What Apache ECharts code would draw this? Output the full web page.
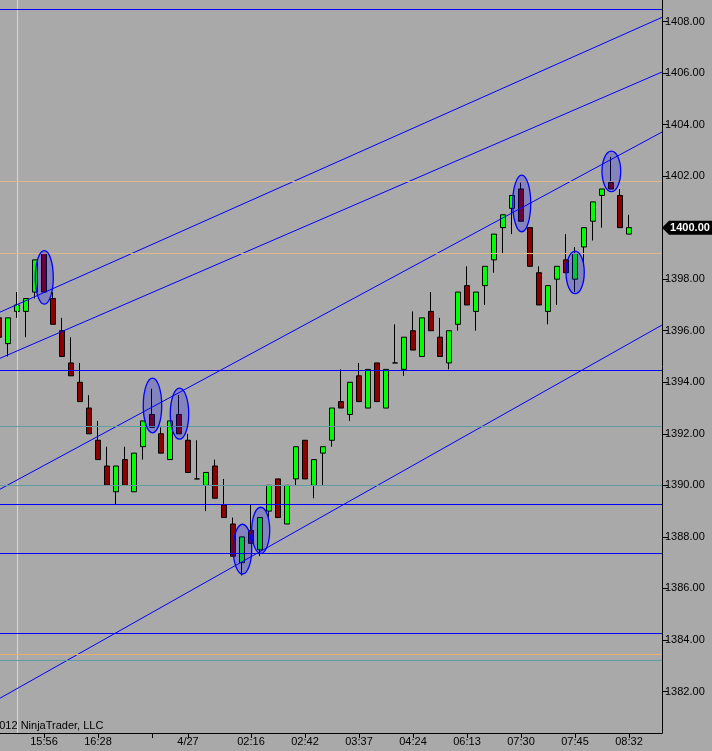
<!DOCTYPE html>
<html><head><meta charset="utf-8">
<script src="https://cdn.jsdelivr.net/npm/echarts@6/dist/echarts.min.js"></script>
<style>html,body{margin:0;padding:0;background:#a9a9a9}#c{width:712px;height:751px}</style>
</head><body><div id="c"></div>
<script>
// ---- bar positions (bar number on the chart) ----
const barIndex = [-1,0,1,2,3,4,5,6,7,8,9,10,11,12,13,14,15,16,17,18,19,20,21,22,23,24,25,26,27,28,29,30,31,32,33,34,35,36,37,38,39,40,41,42,43,44,45,46,47,48,49,50,51,52,53,54,55,56,57,58,59,60,61,62,63,64,65,66,67,68,69];
// ---- OHLC ----
const opens = [1396.5,1395.5,1396.75,1396.75,1397.5,1399.0,1397.25,1396.0,1394.75,1394.0,1393.0,1391.75,1390.75,1389.75,1391.0,1389.75,1391.5,1392.75,1392.0,1391.0,1392.75,1391.75,1390.25,1390.0,1390.75,1389.25,1388.5,1387.0,1388.25,1387.5,1389.0,1390.25,1388.5,1390.25,1391.75,1390.0,1391.25,1391.75,1393.25,1392.75,1394.25,1393.0,1394.75,1393.0,1394.75,1394.5,1396.0,1395.0,1396.75,1395.75,1394.75,1396.25,1397.75,1396.75,1397.75,1398.75,1400.0,1400.75,1401.5,1400.0,1398.25,1396.75,1398.0,1398.75,1398.0,1399.25,1400.25,1401.25,1401.75,1401.25,1399.75];
const closes = [1395.75,1396.5,1397.0,1397.25,1398.75,1397.5,1396.25,1395.0,1394.25,1393.25,1392.0,1391.0,1390.0,1390.75,1390.0,1391.25,1392.5,1392.25,1391.25,1392.5,1392.0,1390.5,1390.25,1390.5,1389.5,1388.75,1387.25,1388.0,1387.75,1388.75,1390.0,1388.75,1390.0,1391.5,1390.25,1391.0,1391.5,1393.0,1393.0,1394.0,1393.25,1394.5,1393.25,1394.5,1394.75,1395.75,1395.25,1396.5,1396.0,1395.0,1396.0,1397.5,1397.0,1397.5,1398.5,1399.75,1400.5,1401.25,1400.25,1398.5,1397.0,1397.75,1398.5,1398.25,1399.0,1400.0,1401.0,1401.5,1401.5,1400.0,1400.0];
const lows = [1395.75,1395.0,1396.5,1395.75,1397.25,1397.5,1396.25,1395.0,1394.25,1393.25,1392.0,1391.0,1390.0,1389.25,1390.0,1389.75,1391.0,1392.25,1391.25,1391.0,1392.0,1390.5,1390.25,1389.0,1389.5,1388.75,1387.25,1386.5,1387.75,1387.25,1388.75,1388.75,1388.5,1390.0,1390.25,1389.5,1390.0,1391.5,1393.0,1392.5,1393.25,1393.0,1393.25,1393.0,1394.75,1394.25,1395.25,1395.0,1396.0,1395.0,1394.5,1396.0,1397.0,1396.0,1397.0,1398.25,1399.0,1399.75,1400.25,1398.5,1397.0,1396.25,1397.0,1398.25,1397.5,1398.5,1399.5,1400.0,1401.5,1400.0,1399.75];
const highs = [1396.5,1396.5,1397.5,1397.25,1398.75,1399.0,1397.5,1396.5,1395.75,1394.75,1393.5,1392.5,1391.5,1390.75,1391.5,1391.25,1392.5,1393.75,1392.25,1392.5,1393.5,1392.0,1391.75,1390.5,1391.0,1390.25,1388.75,1388.0,1389.25,1388.75,1390.0,1390.25,1390.0,1391.5,1391.75,1391.0,1391.5,1393.0,1394.5,1394.0,1394.75,1394.5,1394.75,1394.5,1396.25,1395.75,1396.75,1396.5,1397.5,1396.5,1396.0,1397.5,1398.5,1397.5,1398.5,1399.75,1400.5,1401.25,1401.75,1400.0,1398.5,1397.75,1398.5,1399.75,1399.25,1400.0,1401.0,1401.5,1402.75,1401.5,1400.5];
// ---- time axis labels ----
const tickBars = [4,10,16,20,27,33,39,45,51,57,63,69];
const tickLabels = ['15:56','16:28','','4/27','02:16','02:42','03:37','04:24','06:13','07:30','07:45','08:32'];
// ---- price axis labels ----
const priceTicks = [1382,1384,1386,1388,1390,1392,1394,1396,1398,1400,1402,1404,1406,1408];
const lastPrice = 1400.00;
// ---- ellipses (bar range and price range) ----
const ellipseX0 = [3.03,15.03,18.03,25.03,27.08,56.08,62.0,66.0];
const ellipseX1 = [5.03,17.08,20.08,27.08,29.08,58.08,64.03,68.08];
const ellipseTop = [1399.11,1394.16,1393.77,1388.49,1389.15,1402.04,1399.09,1402.97];
const ellipseBottom = [1397.03,1392.04,1391.79,1386.56,1387.36,1399.84,1397.44,1401.40];
// ---- trend lines ----
const trendX0 = [-0.889,-0.889,-0.889,-0.889,-0.889];
const trendP0 = [1404.48,1396.72,1394.93,1389.85,1381.74];
const trendX1 = [28.22,72.667,72.667,72.667,72.667];
const trendP1 = [1408.92,1408.16,1406.04,1403.71,1396.22];
// ---- horizontal levels ----
const blueLevels = [1408.47,1394.48,1389.28,1387.36,1384.26];
const tanLevels = [1401.81,1399.0];
const tealLevels = [1392.30,1390.0,1383.21];
const orangeLevels = [1383.44];
const sessionBreaks = [1.03];

const FONT = 'Liberation Sans, Arial, sans-serif';
const candleData = barIndex.map((k,i)=>[k, opens[i], closes[i], lows[i], highs[i]]);
const ellipseData = ellipseX0.map((x,i)=>[x, ellipseX1[i], ellipseTop[i], ellipseBottom[i]]);

const lines = [];
sessionBreaks.forEach(v=>lines.push({xAxis:v,lineStyle:{color:'#d6d6d6',width:1,type:'solid'}}));
trendX0.forEach((x,i)=>lines.push([{coord:[x,trendP0[i]],lineStyle:{color:'#0000ff',width:1,type:'solid'}},{coord:[trendX1[i],trendP1[i]]}]));
blueLevels.forEach(v=>lines.push({yAxis:v,lineStyle:{color:'#0000ff',width:1,type:'solid'}}));
tanLevels.forEach(v=>lines.push({yAxis:v,lineStyle:{color:'#dcb98a',width:1,type:'solid'}}));
tealLevels.forEach(v=>lines.push({yAxis:v,lineStyle:{color:'#5f9ea0',width:1,type:'solid'}}));
orangeLevels.forEach(v=>lines.push({yAxis:v,lineStyle:{color:'#e8b070',width:1,type:'solid'}}));

const chart = echarts.init(document.getElementById('c'), null, {renderer:'canvas'});
chart.setOption({
  backgroundColor:'#a9a9a9',
  animation:false,
  textStyle:{fontFamily:FONT},
  graphic:[{type:'text',left:-15,top:720,style:{text:'\u00a92012 NinjaTrader, LLC',fontSize:11,fontFamily:FONT,fill:'#000'}}],
  grid:{left:0,top:0,width:662,height:733},
  xAxis:{type:'value',min:-0.889,max:72.667,
    axisLine:{show:true,onZero:false,lineStyle:{color:'#000',width:1}},
    axisTick:{show:true,length:5,lineStyle:{color:'#000'},customValues:tickBars},
    axisLabel:{customValues:tickBars,margin:3,fontSize:11,color:'#000',fontFamily:FONT,
      formatter:v=>{const i=tickBars.indexOf(Math.round(v));return i>=0?tickLabels[i]:'';}},
    splitLine:{show:false}},
  yAxis:{type:'value',position:'right',min:1380.39,max:1408.834,
    axisLine:{show:true,onZero:false,lineStyle:{color:'#000',width:1}},
    axisTick:{show:true,length:6,lineStyle:{color:'#000'},customValues:priceTicks},
    axisLabel:{customValues:priceTicks,margin:3,fontSize:11,color:'#000',fontFamily:FONT,formatter:v=>v.toFixed(2)},
    splitLine:{show:false}},
  series:[
    {type:'candlestick',data:candleData,encode:{x:0,y:[1,2,3,4]},barWidth:6,z:2,
      itemStyle:{color:'#00ff00',color0:'#8b0000',borderColor:'#000',borderColor0:'#000',borderColorDoji:'#000',borderWidth:1},
      markLine:{silent:true,symbol:['none','none'],label:{show:false},data:lines},
      markPoint:{silent:true,data:[{coord:[72.667,lastPrice],symbol:'path://M0,7L7,0L50,0L50,14L7,14Z',symbolSize:[50,14],symbolKeepAspect:false,symbolOffset:[25,0],
        itemStyle:{color:'#000'},
        label:{show:true,position:'inside',offset:[3,0],formatter:lastPrice.toFixed(2),color:'#fff',fontWeight:'bold',fontSize:11,fontFamily:FONT}}]}},
    {type:'custom',data:ellipseData,encode:{x:[0,1],y:[2,3]},z:5,silent:true,
      renderItem:(params,api)=>{
        const a=api.coord([api.value(0),api.value(2)]);
        const b=api.coord([api.value(1),api.value(3)]);
        return {type:'ellipse',shape:{cx:(a[0]+b[0])/2,cy:(a[1]+b[1])/2,rx:Math.abs(b[0]-a[0])/2,ry:Math.abs(b[1]-a[1])/2},
          style:{fill:'rgba(0,0,255,0.22)',stroke:'#0000ff',lineWidth:1.3}};
      }}
  ]
});
</script></body></html>
